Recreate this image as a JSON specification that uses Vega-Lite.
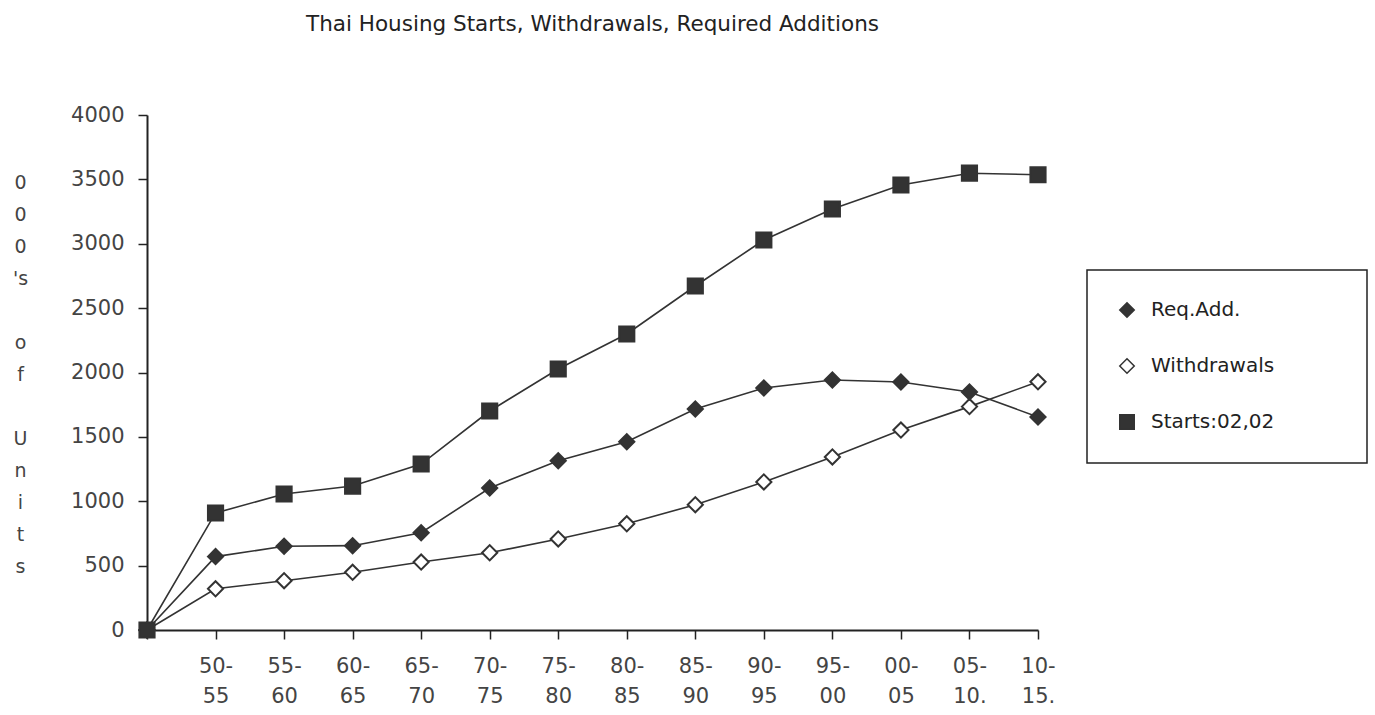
{
  "$schema": "https://vega.github.io/schema/vega-lite/v6.json",
  "width": 891,
  "height": 515,
  "autosize": {"type": "none"},
  "padding": {"left": 147, "top": 115, "right": 337, "bottom": 85},
  "background": "white",
  "title": {
    "text": "Thai Housing Starts, Withdrawals, Required Additions",
    "font": "DejaVu Sans",
    "fontSize": 21.5,
    "fontWeight": "normal",
    "color": "#222",
    "anchor": "middle",
    "offset": 69
  },
  "config": {
    "view": {"stroke": null},
    "axis": {"grid": false, "domainColor": "#222", "domainWidth": 2, "tickColor": "#222", "tickWidth": 1.5, "labelFont": "DejaVu Sans", "labelFontSize": 21, "labelColor": "#444"},
    "legend": {
      "orient": "none",
      "legendX": 940,
      "legendY": 155,
      "strokeColor": "#222",
      "strokeWidth": 1.5,
      "padding": 30,
      "rowPadding": 34,
      "symbolSize": 210,
      "labelFont": "DejaVu Sans",
      "labelFontSize": 20,
      "labelColor": "#222",
      "labelOffset": 14,
      "labelLimit": 400
    }
  },
  "data": {
    "values": [
      {"p": "o", "t": 0, "s": "Withdrawals", "v": 0},
      {"p": "50-|55", "t": 1, "s": "Withdrawals", "v": 320},
      {"p": "55-|60", "t": 2, "s": "Withdrawals", "v": 383},
      {"p": "60-|65", "t": 3, "s": "Withdrawals", "v": 448},
      {"p": "65-|70", "t": 4, "s": "Withdrawals", "v": 528},
      {"p": "70-|75", "t": 5, "s": "Withdrawals", "v": 600},
      {"p": "75-|80", "t": 6, "s": "Withdrawals", "v": 707},
      {"p": "80-|85", "t": 7, "s": "Withdrawals", "v": 825},
      {"p": "85-|90", "t": 8, "s": "Withdrawals", "v": 973},
      {"p": "90-|95", "t": 9, "s": "Withdrawals", "v": 1150},
      {"p": "95-|00", "t": 10, "s": "Withdrawals", "v": 1344},
      {"p": "00-|05", "t": 11, "s": "Withdrawals", "v": 1553},
      {"p": "05-|10.", "t": 12, "s": "Withdrawals", "v": 1735},
      {"p": "10-|15.", "t": 13, "s": "Withdrawals", "v": 1928},
      {"p": "o", "t": 0, "s": "Req.Add.", "v": 0},
      {"p": "50-|55", "t": 1, "s": "Req.Add.", "v": 570},
      {"p": "55-|60", "t": 2, "s": "Req.Add.", "v": 650},
      {"p": "60-|65", "t": 3, "s": "Req.Add.", "v": 655},
      {"p": "65-|70", "t": 4, "s": "Req.Add.", "v": 755},
      {"p": "70-|75", "t": 5, "s": "Req.Add.", "v": 1103},
      {"p": "75-|80", "t": 6, "s": "Req.Add.", "v": 1315},
      {"p": "80-|85", "t": 7, "s": "Req.Add.", "v": 1462},
      {"p": "85-|90", "t": 8, "s": "Req.Add.", "v": 1717},
      {"p": "90-|95", "t": 9, "s": "Req.Add.", "v": 1880},
      {"p": "95-|00", "t": 10, "s": "Req.Add.", "v": 1942},
      {"p": "00-|05", "t": 11, "s": "Req.Add.", "v": 1926},
      {"p": "05-|10.", "t": 12, "s": "Req.Add.", "v": 1849},
      {"p": "10-|15.", "t": 13, "s": "Req.Add.", "v": 1654},
      {"p": "o", "t": 0, "s": "Starts:02,02", "v": 0},
      {"p": "50-|55", "t": 1, "s": "Starts:02,02", "v": 909},
      {"p": "55-|60", "t": 2, "s": "Starts:02,02", "v": 1056},
      {"p": "60-|65", "t": 3, "s": "Starts:02,02", "v": 1118},
      {"p": "65-|70", "t": 4, "s": "Starts:02,02", "v": 1289},
      {"p": "70-|75", "t": 5, "s": "Starts:02,02", "v": 1701},
      {"p": "75-|80", "t": 6, "s": "Starts:02,02", "v": 2027},
      {"p": "80-|85", "t": 7, "s": "Starts:02,02", "v": 2299},
      {"p": "85-|90", "t": 8, "s": "Starts:02,02", "v": 2672},
      {"p": "90-|95", "t": 9, "s": "Starts:02,02", "v": 3029},
      {"p": "95-|00", "t": 10, "s": "Starts:02,02", "v": 3270},
      {"p": "00-|05", "t": 11, "s": "Starts:02,02", "v": 3456},
      {"p": "05-|10.", "t": 12, "s": "Starts:02,02", "v": 3548},
      {"p": "10-|15.", "t": 13, "s": "Starts:02,02", "v": 3536}
    ]
  },
  "encoding": {
    "x": {
      "field": "p",
      "type": "ordinal",
      "sort": ["o", "50-|55", "55-|60", "60-|65", "65-|70", "70-|75", "75-|80", "80-|85", "85-|90", "90-|95", "95-|00", "00-|05", "05-|10.", "10-|15."],
      "scale": {"type": "point", "padding": 0},
      "axis": {
        "title": null,
        "labelAngle": 0,
        "labelExpr": "datum.value == 'o' ? '' : split(datum.value, '|')",
        "labelLineHeight": 30,
        "labelPadding": 16,
        "tickSize": 9,
        "labelBaseline": "top"
      }
    },
    "y": {
      "field": "v",
      "type": "quantitative",
      "scale": {"domain": [0, 4000], "nice": false},
      "axis": {
        "values": [0, 500, 1000, 1500, 2000, 2500, 3000, 3500, 4000],
        "format": "d",
        "tickSize": 9,
        "labelPadding": 14,
        "title": ["0", "0", "0", "'s", "\u2800", "o", "f", "\u2800", "U", "n", "i", "t", "s"],
        "titleAngle": 0,
        "titleAlign": "center",
        "titleBaseline": "top",
        "titleX": -127,
        "titleY": 58,
        "titleFont": "DejaVu Sans",
        "titleFontSize": 19,
        "titleFontWeight": "normal",
        "titleColor": "#444",
        "titleLineHeight": 32
      }
    }
  },
  "layer": [
    {
      "mark": {"type": "line", "color": "#333", "strokeWidth": 1.6},
      "encoding": {
        "detail": {"field": "s"},
        "order": {"field": "t", "type": "quantitative"}
      }
    },
    {
      "mark": {"type": "point", "filled": true, "size": 230, "stroke": "#333", "strokeWidth": 2, "opacity": 1},
      "encoding": {
        "shape": {
          "field": "s",
          "type": "nominal",
          "scale": {"domain": ["Req.Add.", "Withdrawals", "Starts:02,02"], "range": ["diamond", "diamond", "square"]},
          "legend": {
            "title": "\u2800\u2800\u2800\u2800",
            "titleOrient": "right",
            "titlePadding": 0,
            "titleFontSize": 20,
            "titleFont": "DejaVu Sans",
            "encode": {"symbols": {"update": {"stroke": {"value": "#333"}, "strokeWidth": {"value": 2}}}}
          }
        },
        "fill": {
          "field": "s",
          "type": "nominal",
          "scale": {"domain": ["Req.Add.", "Withdrawals", "Starts:02,02"], "range": ["#333", "white", "#333"]},
          "legend": {
            "title": "\u2800\u2800\u2800\u2800",
            "titleOrient": "right",
            "titlePadding": 0,
            "titleFontSize": 20,
            "titleFont": "DejaVu Sans",
            "encode": {"symbols": {"update": {"stroke": {"value": "#333"}, "strokeWidth": {"value": 2}}}}
          }
        }
      }
    }
  ]
}
